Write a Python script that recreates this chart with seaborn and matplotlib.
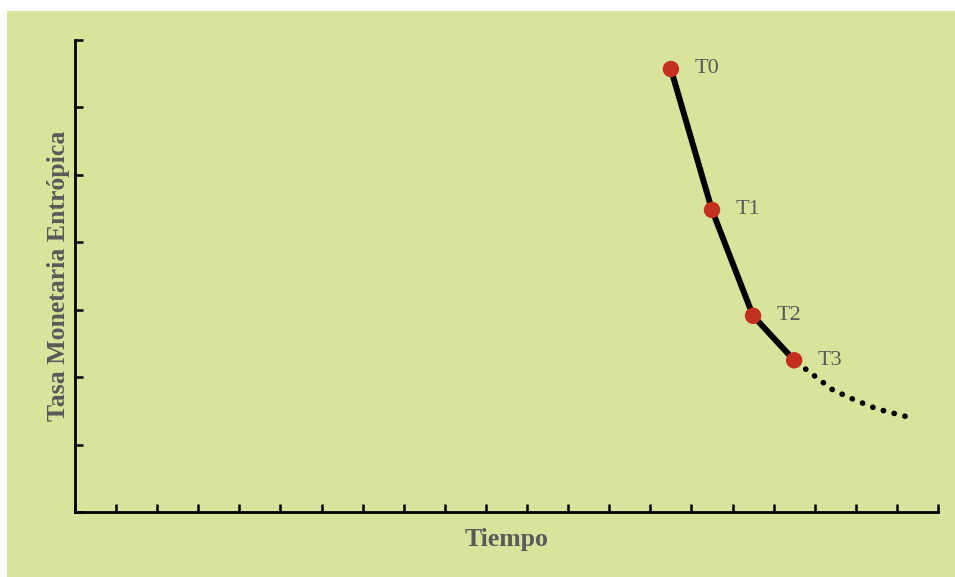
import numpy as np
import pandas as pd
import matplotlib
matplotlib.use("Agg")
import matplotlib.pyplot as plt
from matplotlib.patches import Rectangle
import seaborn as sns

# observed points
labels = ["T0", "T1", "T2", "T3"]
t_obs = [14.5, 15.5, 16.5, 17.5]
rate_obs = [6.57, 4.48, 2.91, 2.25]

# projected (dotted) continuation
t_proj = [17.5, 17.97, 18.44, 18.98, 19.51, 20.07, 20.45]
rate_proj = [2.25, 2.03, 1.81, 1.66, 1.53, 1.44, 1.38]

x_max, y_max = 21, 7

bg = "#d8e49c"
grey = "#595959"
red = "#c4301f"

sns.set_style("white")
plt.rcParams["font.family"] = ["Liberation Serif", "DejaVu Serif"]

fig = plt.figure(figsize=(9.55, 5.77), dpi=100, facecolor="white")
fig.patches.append(Rectangle((7 / 955, 0), 1, (577 - 11) / 577,
                             transform=fig.transFigure, facecolor=bg,
                             edgecolor="none", zorder=-5))
ax = fig.add_axes([75 / 955, 65 / 577, 863 / 955, 472 / 577])
ax.set_facecolor("none")

df_obs = pd.DataFrame({"t": t_obs, "rate": rate_obs, "label": labels})
df_proj = pd.DataFrame({"t": t_proj, "rate": rate_proj})

# dotted projection
ax.plot(df_proj["t"], df_proj["rate"], color="black", linewidth=4.0,
        linestyle=(1.4, (0.05, 1.95)), dash_capstyle="round", zorder=2)
sns.lineplot(data=df_obs, x="t", y="rate", ax=ax, color="black",
             linewidth=4.3, zorder=3)
sns.scatterplot(data=df_obs, x="t", y="rate", ax=ax, color=red, s=140,
                edgecolor="none", zorder=4)

for _, r in df_obs.iterrows():
    ax.annotate(r["label"], (r["t"], r["rate"]), xytext=(17, 0),
                textcoords="offset points", va="center", ha="left",
                fontsize=16, color=grey)

ax.set_xlim(0, x_max)
ax.set_ylim(0, y_max)
ax.set_xticks(np.arange(0, x_max + 1))
ax.set_yticks(np.arange(0, y_max + 1))
ax.set_xticklabels([])
ax.set_yticklabels([])
ax.tick_params(axis="both", direction="in", length=6, width=1.8,
               color="black", left=True, bottom=True)
for side in ["top", "right"]:
    ax.spines[side].set_visible(False)
for side in ["left", "bottom"]:
    ax.spines[side].set_linewidth(2)
    ax.spines[side].set_color("black")

ax.set_xlabel("Tiempo", fontsize=18.5, fontweight="bold", color=grey,
              labelpad=8)
ax.set_ylabel("Tasa Monetaria Entrópica", fontsize=18.5, fontweight="bold",
              color=grey, labelpad=0)

fig.savefig("out.png", dpi=100, facecolor="white")
